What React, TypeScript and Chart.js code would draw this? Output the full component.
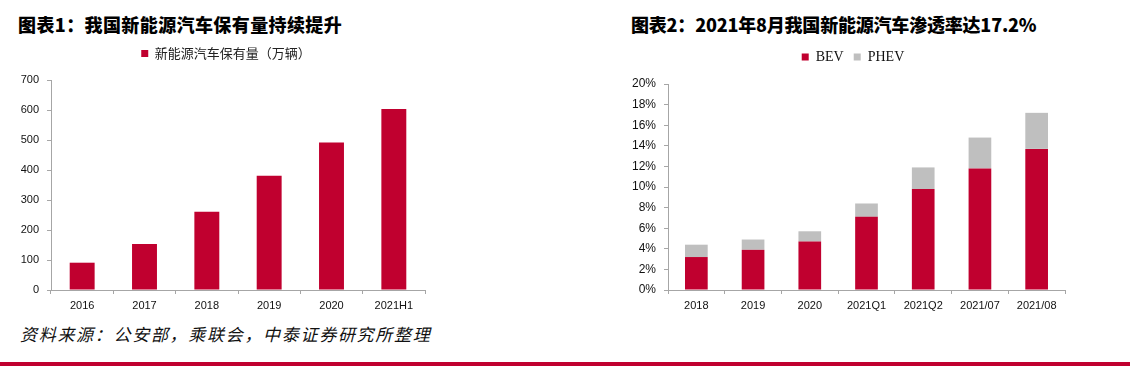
import React, { useEffect, useRef } from 'react';
import { Chart, registerables } from 'chart.js';

Chart.register(...registerables);

// ---- Chart 1 data: NEV stock (10k vehicles)
const stockCategories = ['2016', '2017', '2018', '2019', '2020', '2021H1'];
const stockValues = [91, 153, 261, 381, 492, 603];
const stockLabel = '新能源汽车保有量（万辆）';

// ---- Chart 2 data: NEV penetration (%)
const penCategories = ['2018', '2019', '2020', '2021Q1', '2021Q2', '2021/07', '2021/08'];
const bevValues = [3.2, 3.9, 4.7, 7.1, 9.8, 11.8, 13.7];
const phevValues = [1.2, 1.0, 1.0, 1.3, 2.1, 3.0, 3.5];

const title1 = '图表1：我国新能源汽车保有量持续提升';
const title2 = '图表2：2021年8月我国新能源汽车渗透率达17.2%';
const sourceText = '资料来源：公安部，乘联会，中泰证券研究所整理';

const RED = '#C0002F';
const GRAY = '#BFBFBF';
const AXIS = '#A6A6A6';
const TICK_FONT = { family: '"Liberation Sans", Arial, sans-serif', size: 11 };

function legendSpacer(dx: number) {
  return {
    id: 'legendSpacer',
    afterInit(chart: any) {
      const leg = chart.legend;
      if (!leg || leg.__patched) return;
      const orig = leg.fit.bind(leg);
      leg.fit = () => {
        orig();
        leg.height += 10;
      };
      leg.__patched = true;
    },
    afterLayout(chart: any) {
      const leg = chart.legend;
      if (!leg) return;
      leg.left += dx;
      leg.right += dx;
    },
  };
}

function xScale(stacked: boolean) {
  return {
    stacked,
    grid: { drawOnChartArea: false, drawTicks: true, tickLength: 4, color: AXIS, offset: true },
    border: { display: true, color: AXIS, width: 1 },
    ticks: { color: '#111', font: TICK_FONT, padding: 5, maxRotation: 0, autoSkip: false },
    afterFit: (s: any) => {
      s.height = 30;
    },
  };
}

export default function App() {
  const ref1 = useRef<HTMLCanvasElement>(null);
  const ref2 = useRef<HTMLCanvasElement>(null);

  useEffect(() => {
    const c1 = new Chart(ref1.current!, {
      type: 'bar',
      data: {
        labels: stockCategories,
        datasets: [
          {
            label: stockLabel,
            data: stockValues,
            backgroundColor: RED,
            barPercentage: 0.4,
            categoryPercentage: 1,
          },
        ],
      },
      options: {
        responsive: false,
        animation: false,
        devicePixelRatio: 1,
        layout: { padding: { left: 0, right: 2, top: 0, bottom: 0 } },
        plugins: {
          tooltip: { enabled: false },
          legend: {
            position: 'top',
            align: 'center',
            labels: {
              boxWidth: 7,
              boxHeight: 7,
              padding: 10,
              color: '#222',
              font: { family: '"Noto Sans CJK SC", sans-serif', size: 13 },
            },
          },
        },
        scales: {
          x: xScale(false) as any,
          y: {
            min: 0,
            max: 700,
            ticks: { stepSize: 100, color: '#111', font: TICK_FONT, padding: 8 },
            grid: { drawOnChartArea: false, drawTicks: true, tickLength: 4, color: AXIS },
            border: { display: true, color: AXIS, width: 1 },
            afterFit: (s: any) => {
              s.width = 51;
            },
          },
        },
      },
      plugins: [legendSpacer(13.5)],
    });

    const c2 = new Chart(ref2.current!, {
      type: 'bar',
      data: {
        labels: penCategories,
        datasets: [
          {
            label: 'BEV',
            data: bevValues,
            backgroundColor: RED,
            barPercentage: 0.4,
            categoryPercentage: 1,
          },
          {
            label: 'PHEV',
            data: phevValues,
            backgroundColor: GRAY,
            barPercentage: 0.4,
            categoryPercentage: 1,
          },
        ],
      },
      options: {
        responsive: false,
        animation: false,
        devicePixelRatio: 1,
        layout: { padding: { left: 0, right: 1, top: 0, bottom: 0 } },
        plugins: {
          tooltip: { enabled: false },
          legend: {
            position: 'top',
            align: 'center',
            labels: {
              boxWidth: 7,
              boxHeight: 7,
              padding: 10,
              color: '#111',
              font: { family: '"Liberation Serif", "Times New Roman", serif', size: 14 },
            },
          },
        },
        scales: {
          x: xScale(true) as any,
          y: {
            stacked: true,
            min: 0,
            max: 20,
            ticks: {
              stepSize: 2,
              color: '#111',
              font: { family: '"Liberation Sans", Arial, sans-serif', size: 12 },
              padding: 8,
              callback: (v: any) => v + '%',
            },
            grid: { drawOnChartArea: false, drawTicks: true, tickLength: 4, color: AXIS },
            border: { display: true, color: AXIS, width: 1 },
            afterFit: (s: any) => {
              s.width = 68;
            },
          },
        },
      },
      plugins: [legendSpacer(20.5)],
    });

    return () => {
      c1.destroy();
      c2.destroy();
    };
  }, []);

  const titleStyle: React.CSSProperties = {
    position: 'absolute',
    top: 15,
    fontFamily: '"Noto Sans CJK SC", sans-serif',
    fontWeight: 900,
    fontSize: 18,
    lineHeight: '18px',
    color: '#000',
    whiteSpace: 'nowrap',
  };

  return (
    <div
      style={{
        position: 'absolute',
        left: 0,
        top: 0,
        width: 1130,
        height: 366,
        background: '#fff',
        overflow: 'hidden',
      }}
    >
      <div style={{ ...titleStyle, left: 18, letterSpacing: 0.4 }}>{title1}</div>
      <div style={{ ...titleStyle, left: 631, letterSpacing: -0.2 }}>{title2}</div>
      <canvas
        ref={ref1}
        width={427}
        height={283}
        style={{ position: 'absolute', left: 0, top: 37, width: 427, height: 283 }}
      />
      <canvas
        ref={ref2}
        width={466}
        height={280}
        style={{ position: 'absolute', left: 600, top: 40, width: 466, height: 280 }}
      />
      <div
        style={{
          position: 'absolute',
          left: 20,
          top: 325,
          fontFamily: '"Noto Sans CJK SC", sans-serif',
          fontStyle: 'italic',
          fontSize: 17,
          lineHeight: '17px',
          letterSpacing: 1.7,
          color: '#111',
          whiteSpace: 'nowrap',
        }}
      >
        {sourceText}
      </div>
      <div
        style={{
          position: 'absolute',
          left: 0,
          top: 362,
          width: 1130,
          height: 4,
          background: RED,
        }}
      />
    </div>
  );
}
